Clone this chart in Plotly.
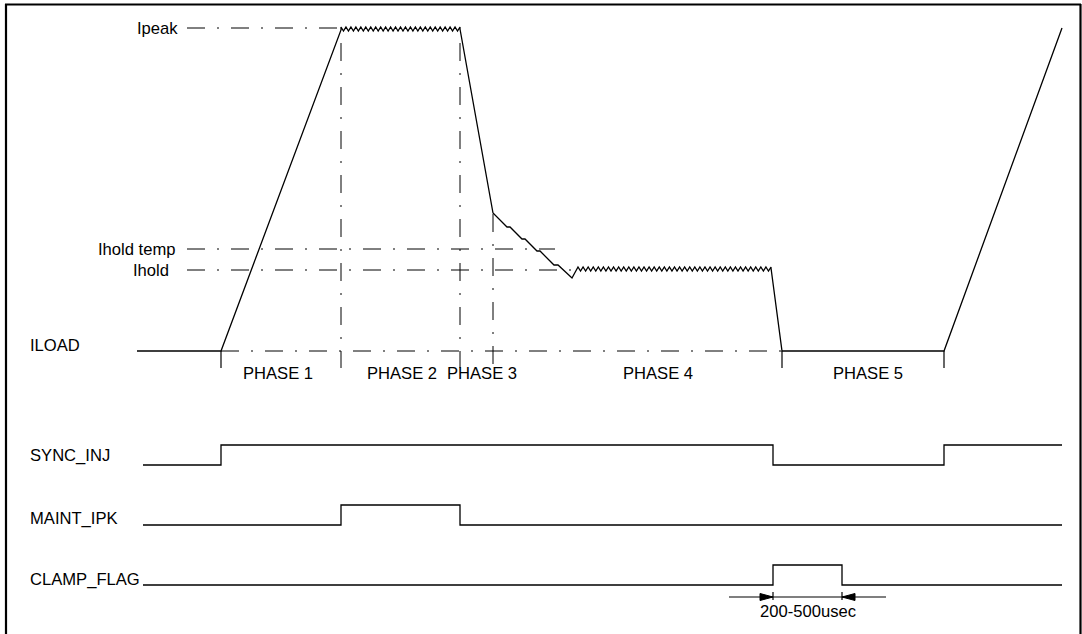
import plotly.graph_objects as go

# ---------------- data ----------------
# current levels of the ILOAD trace (vertical position on the drawing scale)
level_names = ["ILOAD", "Ihold", "Ihold temp", "Ipeak"]
level_pos = [351, 270, 249, 28]
level_label_x = [28, 171, 177, 180]          # where the level names end/start
level_line_x = [[221, 782], [187, 578], [187, 555], [187, 341]]

# phase boundaries (time) and phase labels
phase_labels = ["PHASE 1", "PHASE 2", "PHASE 3", "PHASE 4", "PHASE 5"]
phase_label_t = [278, 402, 482, 658, 868]
phase_solid_ticks = [221, 782, 944]
phase_dash_edges = [341, 460, 493]
phase_dash_top = [43, 43, 214]

# ILOAD waveform pieces
rise_t = [137, 221, 341]
rise_y = [351, 351, 30]
peak_ripple = dict(t0=341, t1=460, top=27, bottom=31, teeth=24)
fall_t = [460, 493]
fall_y = [29, 213]
stair_t = [493, 507, 510, 522, 525, 537, 540, 554, 558, 572, 578]
stair_y = [213, 227, 227, 239, 239, 251, 251, 265, 265, 278, 268]
hold_ripple = dict(t0=578, t1=771, top=267, bottom=271, teeth=38)
end_t = [771, 782, 944, 1062]
end_y = [268, 351, 351, 28]

# logic signals: name, baseline, toggle times, levels
sig_names = ["SYNC_INJ", "MAINT_IPK", "CLAMP_FLAG"]
sig_base = [465, 525, 585]
sig_label_y = [455, 518, 579]
sync_t = [143, 221, 221, 773, 773, 944, 944, 1062]
sync_v = [0, 0, 1, 1, 0, 0, 1, 1]
maint_t = [143, 341, 341, 460, 460, 1062]
maint_v = [0, 0, 1, 1, 0, 0]
clamp_t = [143, 773, 773, 842, 842, 1062]
clamp_v = [0, 0, 1, 1, 0, 0]
sig_high = 20

# clamp pulse width dimension
dim_text = "200-500usec"
dim_t = [729, 886]
dim_marks = [773, 842]
dim_y = 597

# ---------------- drawing ----------------
FONT = dict(family="Liberation Sans, Arial, sans-serif", size=16.6, color="black")
DASHDOT = "18px,12px,2px,12px"
W, H = 1082, 634

fig = go.Figure()


def line(x, y, width=1.3, dash="solid"):
    fig.add_trace(go.Scatter(x=x, y=y, mode="lines", hoverinfo="skip",
                             line=dict(color="black", width=width, dash=dash)))


def ripple(t0, t1, top, bottom, teeth):
    ts, ys = [], []
    step = (t1 - t0) / (2 * teeth)
    for k in range(2 * teeth + 1):
        ts.append(t0 + k * step)
        ys.append(top if k % 2 == 0 else bottom)
    return ts, ys


# reference dash-dot lines for current levels
for pos, (xa, xb) in zip(level_pos, level_line_x):
    line([xa, xb], [pos, pos], width=1, dash=DASHDOT)

# vertical phase edges
for t, top in zip(phase_dash_edges, phase_dash_top):
    line([t, t], [top, 368], width=1, dash=DASHDOT)
for t in phase_solid_ticks:
    line([t, t], [level_pos[0], 368], width=1.2)

# ILOAD waveform
pk_t, pk_y = ripple(**peak_ripple)
hd_t, hd_y = ripple(**hold_ripple)
wave_t = rise_t + pk_t + fall_t + stair_t[1:] + hd_t + end_t
wave_y = rise_y + pk_y + fall_y + stair_y[1:] + hd_y + end_y
line(wave_t, wave_y, width=1.3)

# logic signals
for base, ts, vs in zip(sig_base, [sync_t, maint_t, clamp_t], [sync_v, maint_v, clamp_v]):
    line(ts, [base - sig_high * v for v in vs], width=1.3)

# dimension arrow
line(dim_t, [dim_y, dim_y], width=1.2)
for m in dim_marks:
    line([m, m], [dim_y - 5, dim_y + 3], width=1.2)
for m, d in zip(dim_marks, [-1, 1]):
    fig.add_trace(go.Scatter(x=[m + 13 * d, m, m + 13 * d, m + 13 * d],
                             y=[dim_y - 3.5, dim_y, dim_y + 3.5, dim_y - 3.5],
                             mode="lines", fill="toself", fillcolor="black",
                             line=dict(color="black", width=1), hoverinfo="skip"))

# frame
line([6, 6], [4, H + 5], width=2.2)
line([5, 1081], [4.5, 4.5], width=2.2)
line([1080.5, 1080.5], [4, H + 5], width=2.2)

ann = []
# level names
for name, pos, lx in zip(level_names, level_pos, level_label_x):
    if name == "ILOAD":
        ann.append(dict(x=lx, y=pos - 6, text=name, xanchor="left"))
    else:
        ann.append(dict(x=lx, y=pos, text=name, xanchor="right"))
for lab, t in zip(phase_labels, phase_label_t):
    ann.append(dict(x=t, y=373, text=lab, xanchor="center"))
for name, ly in zip(sig_names, sig_label_y):
    ann.append(dict(x=28, y=ly, text=name, xanchor="left"))
ann.append(dict(x=sum(dim_marks) / 2, y=611, text=dim_text, xanchor="center"))
for a in ann:
    a.update(xref="x", yref="y", yanchor="middle", showarrow=False, font=FONT)

fig.update_layout(
    width=W, height=H, margin=dict(l=0, r=0, t=0, b=0),
    paper_bgcolor="white", plot_bgcolor="white", showlegend=False,
    xaxis=dict(range=[0, W], visible=False, fixedrange=True),
    yaxis=dict(range=[H, 0], visible=False, fixedrange=True),
    annotations=ann,
)

fig.write_html("out.html", config={"displayModeBar": False},
               post_script="document.body.style.margin='0';")
